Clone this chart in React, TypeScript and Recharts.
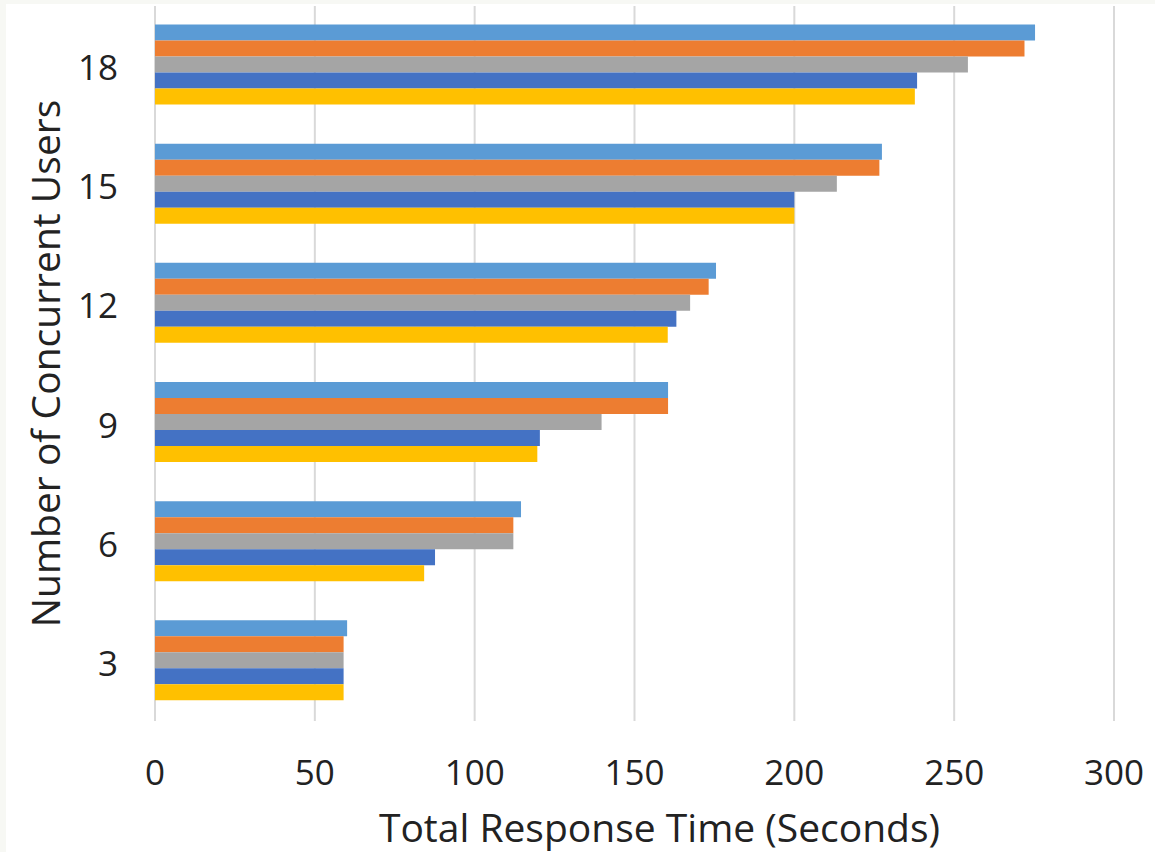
import { BarChart, Bar, XAxis, YAxis, CartesianGrid } from 'recharts'

// concurrent users per group, listed top to bottom
const userCounts = ['18', '15', '12', '9', '6', '3']

// total response time (seconds) for each configuration, same order as userCounts
const runA = [275.3, 227.4, 175.5, 160.5, 114.5, 60.1]
const runB = [272.0, 226.6, 173.2, 160.5, 112.1, 59.0]
const runC = [254.3, 213.3, 167.4, 139.7, 112.1, 59.0]
const runD = [238.4, 200.0, 163.1, 120.4, 87.6, 59.0]
const runE = [237.7, 200.0, 160.4, 119.6, 84.2, 59.0]

const xTicks = [0, 50, 100, 150, 200, 250, 300]

const series = [
  { key: 'runA', color: '#5B9BD5' },
  { key: 'runB', color: '#ED7D31' },
  { key: 'runC', color: '#A5A5A5' },
  { key: 'runD', color: '#4472C4' },
  { key: 'runE', color: '#FFC000' },
]

const data = userCounts.map((users, i) => ({
  users,
  runA: runA[i],
  runB: runB[i],
  runC: runC[i],
  runD: runD[i],
  runE: runE[i],
}))

const FONT = '"Open Sans", sans-serif'
const TEXT = '#222'

export default function App() {
  return (
    <div style={{ position: 'absolute', left: 0, top: 0, width: 1155, height: 852, background: '#f7f8f4' }}>
      <div style={{ position: 'absolute', left: 6, top: 4, width: 1149, height: 848, background: '#fff' }} />
      <div style={{ position: 'absolute', left: 0, top: 0 }}>
        <BarChart
          width={1155}
          height={852}
          data={data}
          layout="vertical"
          margin={{ top: 6, right: 41, bottom: 0, left: 0 }}
          barCategoryGap="15.5%"
          barGap={0}
        >
          <CartesianGrid horizontal={false} stroke="#d9d9d9" strokeWidth={2} />
          <XAxis
            type="number"
            domain={[0, 300]}
            ticks={xTicks}
            height={131}
            tickSize={0}
            tickMargin={39}
            axisLine={false}
            tickLine={false}
            tick={{ fill: TEXT, fontSize: 35, fontFamily: FONT }}
            label={{
              value: 'Total Response Time (Seconds)',
              position: 'insideBottom',
              offset: 10,
              dx: 25,
              style: { fill: TEXT, fontSize: 39, fontFamily: FONT },
            }}
          />
          <YAxis
            type="category"
            dataKey="users"
            width={155}
            tickSize={0}
            tickMargin={37}
            axisLine={false}
            tickLine={false}
            tick={{ fill: TEXT, fontSize: 35, fontFamily: FONT, dy: 2 }}
            label={{
              value: 'Number of Concurrent Users',
              angle: -90,
              position: 'insideLeft',
              offset: 46,
              style: { fill: TEXT, fontSize: 39, fontFamily: FONT, textAnchor: 'middle' },
            }}
          />
          {series.map(s => (
            <Bar key={s.key} dataKey={s.key} fill={s.color} isAnimationActive={false} />
          ))}
        </BarChart>
      </div>
    </div>
  )
}
